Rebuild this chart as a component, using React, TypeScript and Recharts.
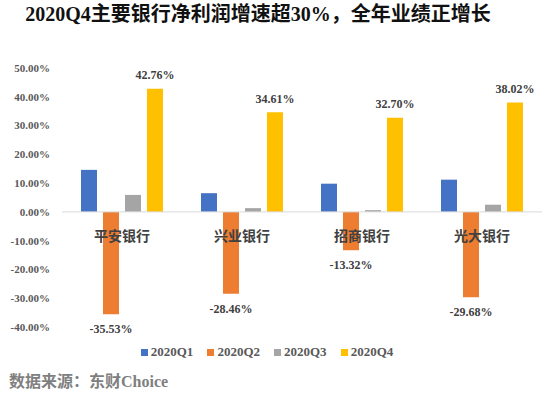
import React from 'react';
import { BarChart, Bar, XAxis, YAxis, ReferenceLine, LabelList, Legend } from 'recharts';

const banks = ['平安银行', '兴业银行', '招商银行', '光大银行'];
const q1 = [14.6, 6.5, 9.8, 11.2];
const q2 = [-35.53, -28.46, -13.32, -29.68];
const q3 = [5.9, 1.3, 0.6, 2.5];
const q4 = [42.76, 34.61, 32.7, 38.02];
const seriesNames = ['2020Q1', '2020Q2', '2020Q3', '2020Q4'];
const yTicks = [-40, -30, -20, -10, 0, 10, 20, 30, 40, 50];
const title = '2020Q4主要银行净利润增速超30%，全年业绩正增长';
const source = '数据来源：东财Choice';

const colors = ['#4472C4', '#ED7D31', '#A5A5A5', '#FFC000'];
const FONT = '"Liberation Serif", "Noto Sans CJK SC", serif';
const BAR = 16;
const GAP = 6;

const data = banks.map((b, i) => ({ name: b, Q1: q1[i], Q2: q2[i], Q3: q3[i], Q4: q4[i] }));

const CategoryLabel = (props: any) => {
  const { x, y, width, height, index } = props;
  const base = Math.max(y, y + height);
  const cx = x + 2 * width + 1.5 * GAP;
  return (
    <text x={cx} y={base + 25} textAnchor="middle" dominantBaseline="central"
      fontFamily={FONT} fontWeight="bold" fontSize={14} fill="#404040">
      {banks[index]}
    </text>
  );
};

const TopLabel = (props: any) => {
  const { x, y, width, height, value } = props;
  const top = Math.min(y, y + height);
  return (
    <text x={x + width / 2} y={top - 13.5} textAnchor="middle" dominantBaseline="central"
      fontFamily={FONT} fontWeight="bold" fontSize={12} fill="#404040">
      {Number(value).toFixed(2)}%
    </text>
  );
};

const BottomLabel = (props: any) => {
  const { x, y, width, height, value } = props;
  const bottom = Math.max(y, y + height);
  return (
    <text x={x + width / 2} y={bottom + 15} textAnchor="middle" dominantBaseline="central"
      fontFamily={FONT} fontWeight="bold" fontSize={12} fill="#404040">
      {Number(value).toFixed(2)}%
    </text>
  );
};

const LegendContent = () => (
  <div style={{ display: 'flex', justifyContent: 'center', height: 18, lineHeight: '18px', paddingRight: 16 }}>
    {seriesNames.map((n, i) => (
      <div key={n} style={{ display: 'flex', alignItems: 'center', marginRight: i < seriesNames.length - 1 ? 14 : 0 }}>
        <span style={{ display: 'inline-block', width: 7, height: 7, background: colors[i], marginRight: 3 }} />
        <span style={{ fontFamily: FONT, fontWeight: 'bold', fontSize: 13, color: '#595959' }}>{n}</span>
      </div>
    ))}
  </div>
);

export default function App() {
  return (
    <div style={{ position: 'absolute', left: 0, top: 0, width: 550, height: 396, background: '#fff', overflow: 'hidden' }}>
      <div style={{ position: 'absolute', left: 0, top: 2, width: 516, textAlign: 'center', fontFamily: FONT, fontWeight: 'bold', fontSize: 20, color: '#111', whiteSpace: 'nowrap', lineHeight: '24px' }}>
        {title}
      </div>
      <BarChart width={550} height={396} data={data} barSize={BAR} barGap={GAP}
        margin={{ top: 68, right: 8, left: 0, bottom: 51 }}>
        <XAxis dataKey="name" hide />
        <YAxis domain={[-40, 50]} ticks={yTicks} axisLine={false} tickLine={false} width={62} tickMargin={6}
          tickFormatter={(v: number) => v.toFixed(2) + '%'}
          tick={{ fontFamily: FONT, fontWeight: 'bold', fontSize: 11, fill: '#595959' }} />
        <ReferenceLine y={0} stroke="#D9D9D9" strokeWidth={1} />
        <Legend verticalAlign="bottom" content={<LegendContent />} wrapperStyle={{ top: 343, left: 0, width: 550 }} />
        <Bar dataKey="Q1" name={seriesNames[0]} fill={colors[0]} isAnimationActive={false}>
          <LabelList dataKey="Q1" content={<CategoryLabel />} />
        </Bar>
        <Bar dataKey="Q2" name={seriesNames[1]} fill={colors[1]} isAnimationActive={false}>
          <LabelList dataKey="Q2" content={<BottomLabel />} />
        </Bar>
        <Bar dataKey="Q3" name={seriesNames[2]} fill={colors[2]} isAnimationActive={false} />
        <Bar dataKey="Q4" name={seriesNames[3]} fill={colors[3]} isAnimationActive={false}>
          <LabelList dataKey="Q4" content={<TopLabel />} />
        </Bar>
      </BarChart>
      <div style={{ position: 'absolute', left: 9, top: 372, fontFamily: FONT, fontWeight: 'bold', fontSize: 16, color: '#7F7F7F', whiteSpace: 'nowrap', lineHeight: '20px' }}>
        {source}
      </div>
    </div>
  );
}
